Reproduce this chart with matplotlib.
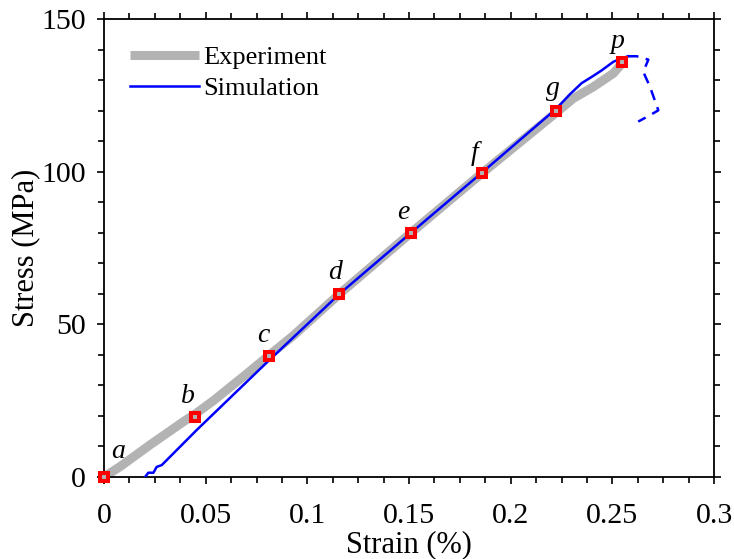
import numpy as np
import matplotlib
matplotlib.use('Agg')
import matplotlib.pyplot as plt
from matplotlib.ticker import MultipleLocator

plt.rcParams['font.family'] = ['Liberation Serif', 'DejaVu Serif']

# experiment curve (strain %, stress MPa)
exp_strain = [0, 0.0079, 0.0226, 0.0390, 0.0448, 0.0538, 0.0702, 0.0811, 0.0931,
              0.1164, 0.151, 0.1857, 0.2223, 0.2308, 0.2407, 0.2505, 0.2548]
exp_stress = [0, 3.4, 10.5, 18.1, 20.6, 25.0, 33.8, 39.8, 46.3,
              60.3, 80.0, 99.4, 119.3, 124.0, 127.8, 132.2, 135.5]

# simulation (solid part)
sim_strain = [0.0202, 0.0218, 0.0243, 0.0259, 0.0284, 0.0456, 0.0813, 0.1157,
              0.151, 0.1857, 0.2222, 0.2292, 0.2349, 0.2407, 0.2448, 0.2505,
              0.2546, 0.2577]
sim_stress = [0, 1.4, 1.4, 3.3, 3.9, 15.4, 38.3, 59.9,
              80.0, 99.6, 120.5, 125.4, 129.0, 131.4, 133.2, 136.0,
              137.1, 137.8]

# simulation (post-peak, dashed)
post_strain = [0.2577, 0.2620, 0.2677, 0.2652, 0.2685, 0.2726, 0.2685, 0.2627]
post_stress = [137.8, 137.8, 136.7, 132.7, 127.8, 120.1, 118.5, 116.4]

# marked states
pt_strain = [0, 0.0448, 0.0811, 0.1157, 0.151, 0.1857, 0.2223, 0.2548]
pt_stress = [0, 19.7, 39.6, 59.9, 80.0, 99.6, 120.0, 136.0]
pt_names = ['a', 'b', 'c', 'd', 'e', 'f', 'g', 'p']
pt_offsets = [(10, 13.5), (-5, 10), (-4, 10.3), (-3, 10.6), (-5.5, 9.6), (-4.8, 9), (-2.4, 11), (-3, 9.6)]

fig = plt.figure(figsize=(7.34, 5.59), dpi=100)
ax = fig.add_axes([0.1417, 0.1467, 0.8311, 0.8193])

ax.plot(exp_strain, exp_stress, color='#b3b3b3', lw=6.5, solid_capstyle='butt',
        label='Experiment', zorder=2)
ax.plot(sim_strain, sim_stress, color='#0000ff', lw=1.8, label='Simulation', zorder=3)
ax.plot(post_strain, post_stress, color='#0000ff', lw=1.8, ls=(0, (4.2, 3.0)), zorder=3)
ax.plot(pt_strain, pt_stress, ls='none', marker='s', ms=5.8, mfc='#b3b3b3',
        mec='#ff0000', mew=2.9, zorder=5, clip_on=False)

for x, y, n, off in zip(pt_strain, pt_stress, pt_names, pt_offsets):
    ax.annotate(n, (x, y), xytext=off, textcoords='offset points',
                ha='center', va='baseline', fontsize=20, style='italic')

ax.set_xlim(0, 0.3)
ax.set_ylim(0, 150)
ax.set_xticks([0, 0.05, 0.1, 0.15, 0.2, 0.25, 0.3])
ax.set_xticklabels(['0', '0.05', '0.1', '0.15', '0.2', '0.25', '0.3'])
ax.set_yticks([0, 50, 100, 150])
ax.xaxis.set_minor_locator(MultipleLocator(0.0125))
ax.yaxis.set_minor_locator(MultipleLocator(10))
ax.tick_params(which='both', direction='out', top=True, right=True,
               labelsize=21.5, width=1.2)
ax.tick_params(axis='x', pad=13.5)
ax.tick_params(axis='y', pad=8)
ax.tick_params(which='major', length=5)
ax.tick_params(which='minor', length=4)
for s in ax.spines.values():
    s.set_linewidth(1.3)

ax.set_xlabel('Strain (%)', fontsize=22, labelpad=1)
ax.set_ylabel('Stress (MPa)', fontsize=22, labelpad=1)

ax.legend(loc='upper left', frameon=False, fontsize=19, handlelength=2.6,
          handletextpad=0.15, labelspacing=0.27, borderaxespad=0, borderpad=0,
          bbox_to_anchor=(0.043, 0.941))

fig.savefig('out.png', dpi=100)
